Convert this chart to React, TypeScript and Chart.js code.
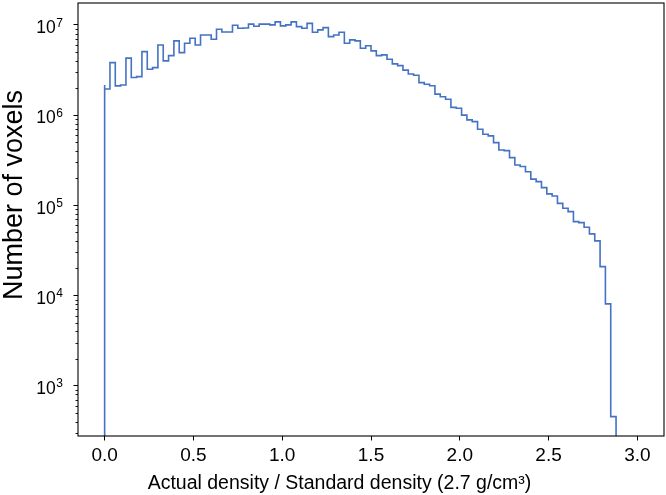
import React, { useEffect, useRef } from "react";
import { Chart, registerables } from "chart.js";

Chart.register(...registerables);

// ---- data ----
const binStart = 0;
const binWidth = 0.03;
const voxelCounts = [
  2.16e6, 1.95e6, 3.82e6, 2.11e6, 2.16e6, 4.28e6, 2.61e6, 2.67e6, 5.06e6, 3.23e6,
  3.36e6, 6.0e6, 3.99e6, 4.57e6, 6.66e6, 4.93e6, 6.27e6, 7.11e6, 6.0e6, 7.74e6,
  7.74e6, 6.94e6, 8.96e6, 8.36e6, 8.36e6, 9.93e6, 9.19e6, 9.26e6, 1.02e7, 9.68e6,
  1.02e7, 1.02e7, 1.0e7, 1.08e7, 9.75e6, 1.0e7, 1.08e7, 9.58e6, 9.19e6, 1.04e7,
  8.3e6, 8.81e6, 9.33e6, 7.42e6, 7.74e6, 8.3e6, 6.27e6, 6.82e6, 6.65e6, 5.52e6,
  5.87e6, 5.15e6, 4.57e6, 4.65e6, 4.17e6, 3.7e6, 3.54e6, 3.15e6, 2.86e6, 2.77e6,
  2.29e6, 2.2e6, 2.12e6, 1.71e6, 1.6e6, 1.5e6, 1.22e6, 1.19e6, 1.0e6, 8.85e5,
  8.48e5, 6.98e5, 6.14e5, 5.88e5, 4.95e5, 4.11e5, 4.04e5, 3.38e5, 2.8e5, 2.69e5,
  2.36e5, 1.95e5, 1.83e5, 1.57e5, 1.34e5, 1.27e5, 1.05e5, 9.28e4, 8.52e4, 6.6e4,
  6.43e4, 5.72e4, 4.82e4, 4.03e4, 2.09e4, 8.07e3, 454, 0, 0, 0,
];
const xTickValues = [0, 0.5, 1.0, 1.5, 2.0, 2.5, 3.0];
const yMajorTickValues = [1e3, 1e4, 1e5, 1e6, 1e7];
const yMinorMultipliers = [2, 3, 4, 5, 6, 7, 8, 9];
const xLimits = [-0.15, 3.15];
const yLimits = [277, 1.75e7];
const xTitle = "Actual density / Standard density (2.7 g/cm³)";
const yTitle = "Number of voxels";

const FONT = '"Liberation Sans", Arial, Helvetica, sans-serif';
const LINE_COLOR = "#4472c4";
const FLOOR = 1; // stands in for empty bins on the log axis (clipped away)

function buildStepPoints() {
  const pts: { x: number; y: number }[] = [];
  pts.push({ x: binStart, y: FLOOR });
  voxelCounts.forEach((c, i) => {
    pts.push({ x: binStart + i * binWidth, y: c > 0 ? c : FLOOR });
  });
  pts.push({ x: binStart + voxelCounts.length * binWidth, y: FLOOR });
  return pts;
}

const decorPlugin = {
  id: "decor",
  afterDraw(chart: any) {
    const { ctx, chartArea: a, scales } = chart;
    const ys = scales.y;
    ctx.save();
    ctx.strokeStyle = "#000";
    // minor y ticks
    ctx.lineWidth = 0.9;
    const lo = Math.floor(Math.log10(ys.min));
    const hi = Math.ceil(Math.log10(ys.max));
    for (let e = lo; e <= hi; e++) {
      for (const m of yMinorMultipliers) {
        const v = m * Math.pow(10, e);
        if (v < ys.min || v > ys.max) continue;
        const py = Math.round(ys.getPixelForValue(v)) + 0.5;
        ctx.beginPath();
        ctx.moveTo(a.left - 2.5, py);
        ctx.lineTo(a.left, py);
        ctx.stroke();
      }
    }
    // frame
    ctx.lineWidth = 1.1;
    ctx.strokeRect(a.left, a.top, a.right - a.left, a.bottom - a.top);

    // y tick labels 10^n
    ctx.fillStyle = "#000";
    const right = a.left - 15;
    for (const v of yMajorTickValues) {
      const py = ys.getPixelForValue(v);
      const exp = String(Math.round(Math.log10(v)));
      ctx.font = `12px ${FONT}`;
      const ew = ctx.measureText(exp).width;
      ctx.textAlign = "left";
      ctx.textBaseline = "alphabetic";
      ctx.fillText(exp, right - ew, py + 1.7);
      ctx.font = `17.5px ${FONT}`;
      ctx.textAlign = "right";
      ctx.fillText("10", right - ew - 0.5, py + 8.3);
    }

    // axis titles
    ctx.font = `19.5px ${FONT}`;
    ctx.textAlign = "center";
    ctx.textBaseline = "alphabetic";
    ctx.fillText(xTitle, (a.left + a.right) / 2 - 31.5, 489);

    ctx.save();
    ctx.translate(22, (a.top + a.bottom) / 2 - 24.5);
    ctx.rotate(-Math.PI / 2);
    ctx.font = `27px ${FONT}`;
    ctx.textAlign = "center";
    ctx.textBaseline = "alphabetic";
    ctx.fillText(yTitle, 0, 0);
    ctx.restore();

    ctx.restore();
  },
};

export default function App() {
  const canvasRef = useRef<HTMLCanvasElement | null>(null);

  useEffect(() => {
    if (!canvasRef.current) return;
    const chart = new Chart(canvasRef.current, {
      type: "line",
      data: {
        datasets: [
          {
            data: buildStepPoints(),
            stepped: "after",
            borderColor: LINE_COLOR,
            borderWidth: 1.6,
            pointRadius: 0,
            fill: false,
            tension: 0,
          },
        ],
      },
      options: {
        animation: false,
        responsive: true,
        maintainAspectRatio: false,
        parsing: false,
        layout: { padding: { top: 3, right: 2, left: 0, bottom: 0 } },
        plugins: {
          legend: { display: false },
          tooltip: { enabled: false },
        },
        scales: {
          x: {
            type: "linear",
            min: xLimits[0],
            max: xLimits[1],
            afterBuildTicks: (scale: any) => {
              scale.ticks = xTickValues.map((v) => ({ value: v }));
            },
            afterFit: (scale: any) => {
              scale.height = 59;
            },
            grid: {
              drawOnChartArea: false,
              drawTicks: true,
              tickLength: 4.5,
              tickColor: "#000",
              tickWidth: 1,
            },
            border: { display: false },
            ticks: {
              autoSkip: false,
              maxRotation: 0,
              padding: 4,
              color: "#000",
              font: { family: FONT, size: 19 },
              callback: (value: any) => Number(value).toFixed(1),
            },
          },
          y: {
            type: "logarithmic",
            min: yLimits[0],
            max: yLimits[1],
            afterBuildTicks: (scale: any) => {
              scale.ticks = yMajorTickValues.map((v) => ({ value: v }));
            },
            afterFit: (scale: any) => {
              scale.width = 78;
            },
            grid: {
              drawOnChartArea: false,
              drawTicks: true,
              tickLength: 4.5,
              tickColor: "#000",
              tickWidth: 1,
            },
            border: { display: false },
            ticks: { display: false },
          },
        },
      },
      plugins: [decorPlugin],
    } as any);
    return () => chart.destroy();
  }, []);

  return (
    <div style={{ position: "fixed", left: 0, top: 0, width: 666, height: 495, background: "#fff" }}>
      <canvas ref={canvasRef} />
    </div>
  );
}
